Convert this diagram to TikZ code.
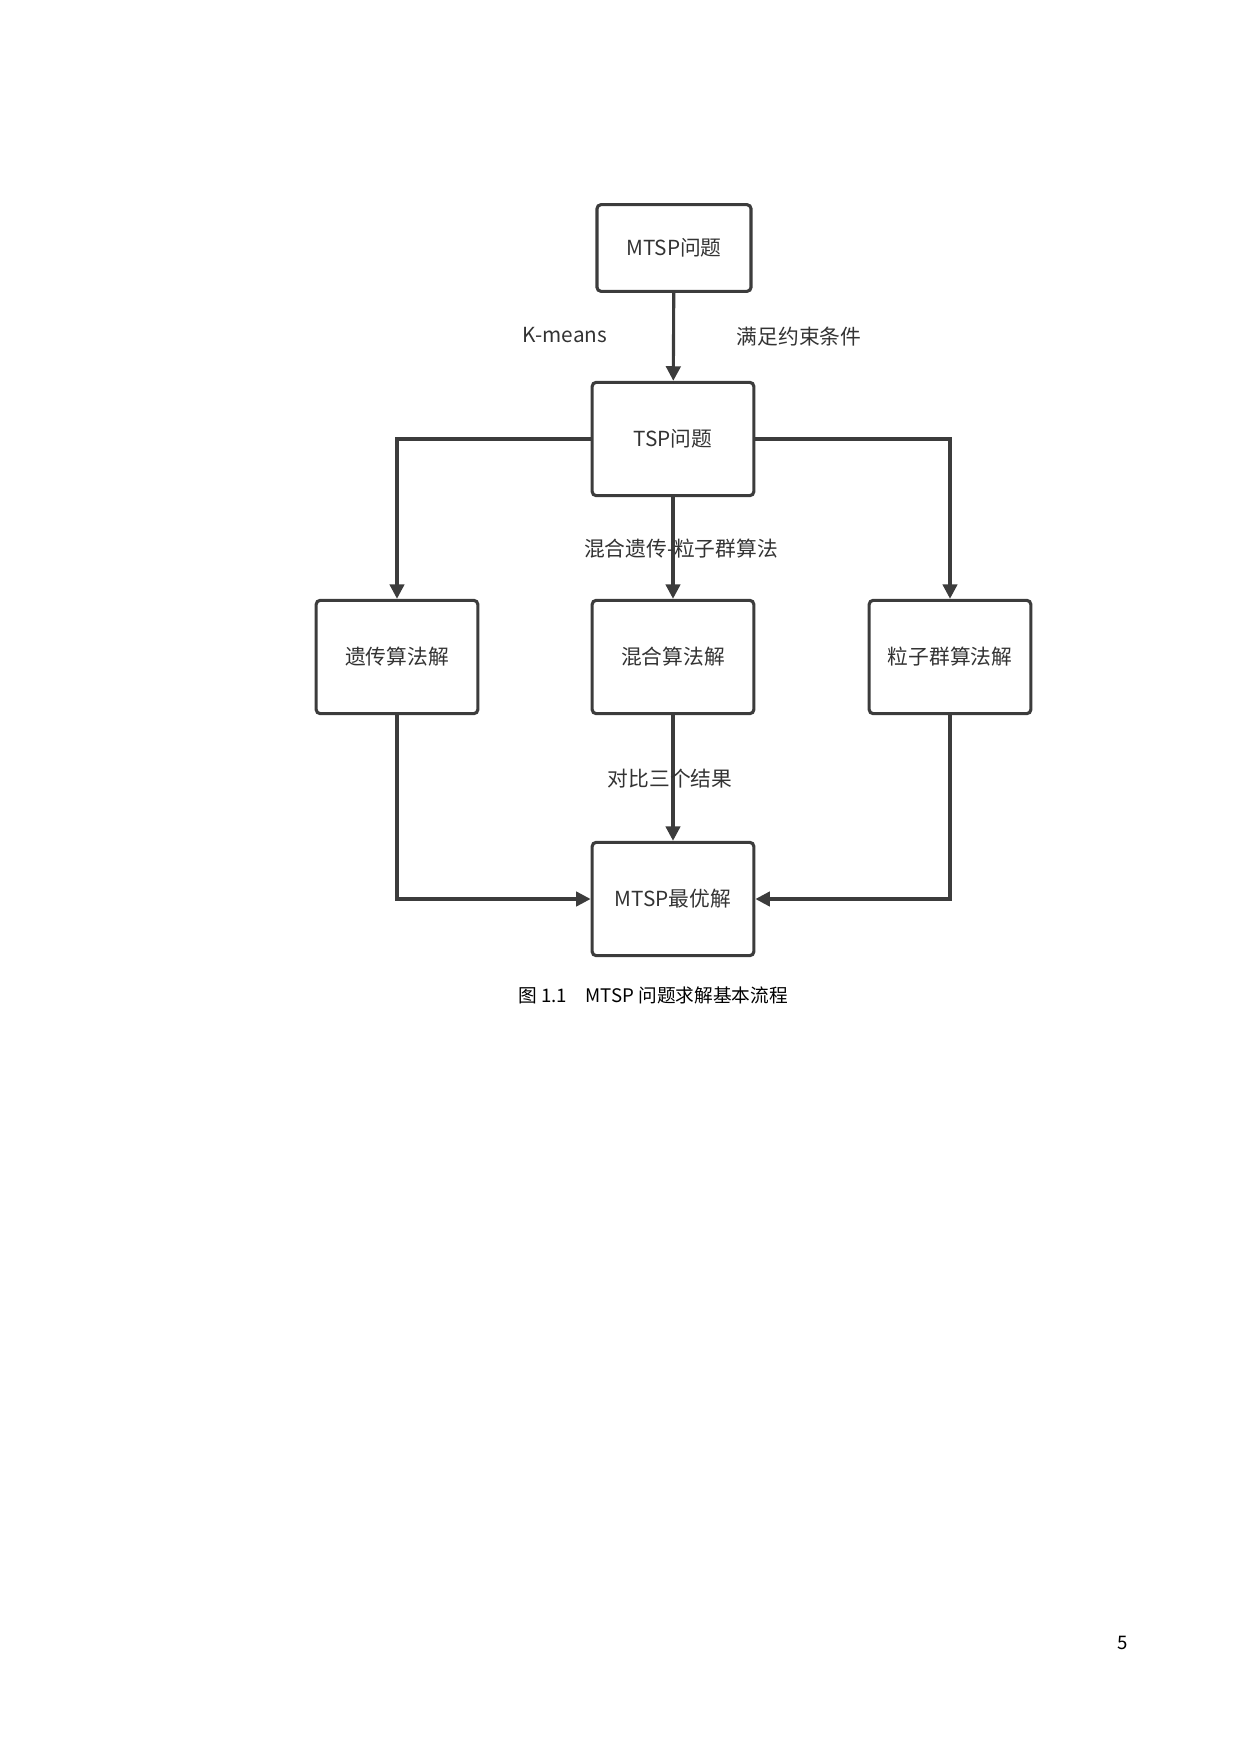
\documentclass[tikz,border=0pt]{standalone}
\usepackage{fontspec}
\setmainfont{Noto Sans CJK SC}
\usetikzlibrary{arrows.meta}
\definecolor{linegray}{RGB}{60,60,60}
\begin{document}
\begin{tikzpicture}[x=0.1694mm,y=-0.1694mm,
    box/.style={draw=linegray,line width=1.5pt,rounded corners=2pt,minimum width=27.4mm,minimum height=19.2mm,font=\fontsize{10}{12}\selectfont,text=black!80},
    flow/.style={draw=linegray,line width=1.5pt,-{Triangle[length=7pt,width=7pt]}},
    lbl/.style={font=\fontsize{10}{12}\selectfont,text=black!80}]
        \useasboundingbox (0,0) rectangle (1240,1754);

        %boxes
        \node[box,minimum width=26.1mm,minimum height=14.7mm] (mtsp) at (674,248) {MTSP问题};
        \node[box] (tsp) at (673,439) {TSP问题};
        \node[box] (ga) at (397,657) {遗传算法解};
        \node[box] (hy) at (673,657) {混合算法解};
        \node[box] (pso) at (950,657) {粒子群算法解};
        \node[box] (best) at (673,899) {MTSP最优解};

        %connectors
        \draw[flow] (mtsp) -- (tsp);
        \draw[flow] (tsp) -- (hy);
        \draw[flow] (tsp.west) -| (ga.north);
        \draw[flow] (tsp.east) -| (pso.north);
        \draw[flow] (hy) -- (best);
        \draw[flow] (ga.south) |- (best.west);
        \draw[flow] (pso.south) |- (best.east);

        %labels
        \node[lbl] (km) at (565,335) {K-means};
        \node[lbl] (cond) at (799,337) {满足约束条件};
        \node[lbl] (hyb) at (681,549) {混合遗传-粒子群算法};
        \node[lbl] (cmp) at (670,779) {对比三个结果};

        \node[font=\fontsize{9}{11}\selectfont] (cap) at (653,995) {图 1.1\quad MTSP 问题求解基本流程};
        \node[font=\fontsize{9}{11}\selectfont] (page) at (1123,1643) {5};
\end{tikzpicture}
\end{document}
